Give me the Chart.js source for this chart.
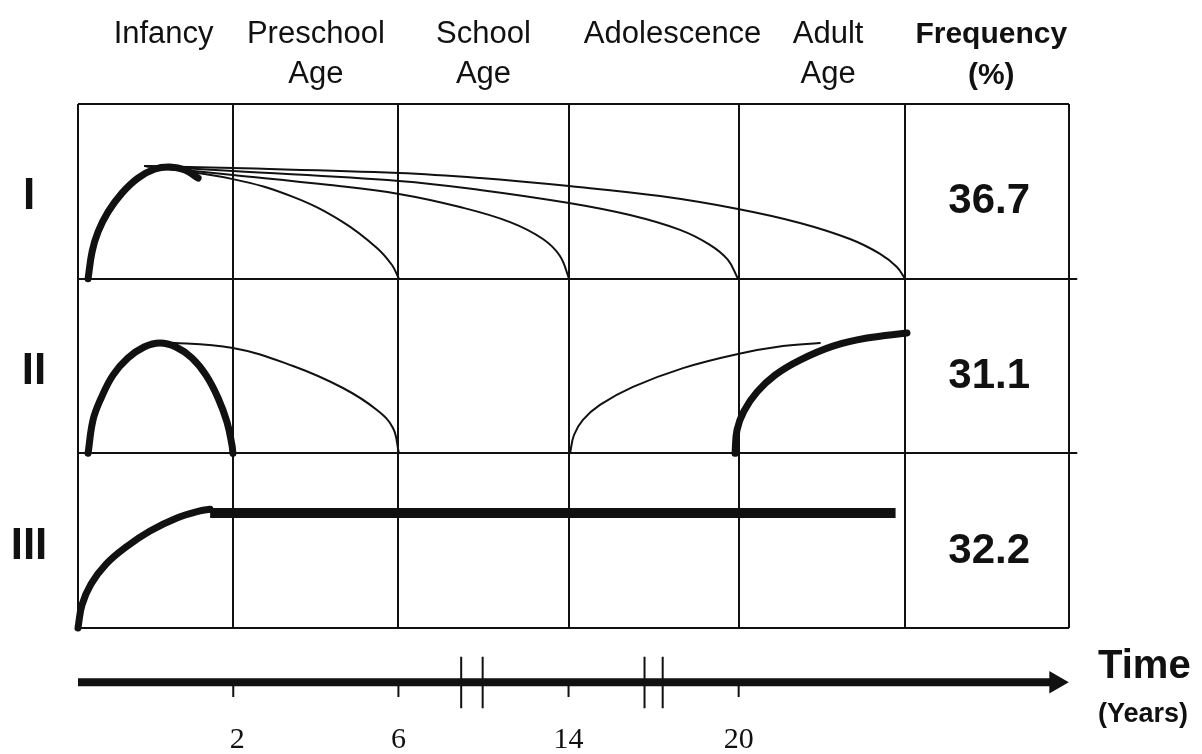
<!DOCTYPE html>
<html>
<head>
<meta charset="utf-8">
<script src="https://cdn.jsdelivr.net/npm/chart.js@4.4.0/dist/chart.umd.min.js"></script>
<style>
  html, body { margin: 0; padding: 0; background: #fff; }
  #wrap { width: 1202px; height: 754px; }
</style>
</head>
<body>
<div id="wrap"><canvas id="course-chart"></canvas></div>
<script>
// x in stage units (0 = birth), y in row units (III = 0..1, II = 1..2, I = 2..3)
const stageEdges = [0, 0.94, 1.94, 2.97, 4.0, 5.01, 6];
const stageNames = [["Infancy"], ["Preschool", "Age"], ["School", "Age"], ["Adolescence"], ["Adult", "Age"]];
const ageTicks = ["2", "6", "14", "20"];
const groups = ["I", "II", "III"];
const frequency = ["36.7", "31.1", "32.2"];
const breakMarks = [2.32, 2.45, 3.43, 3.54];
const timeAxisY = -0.31;

// group I : onset in infancy, remission at 6, 14, 20 or later
const onsetI = [[0.061, 2.0], [0.085, 2.153], [0.121, 2.267], [0.182, 2.382], [0.266, 2.49], [0.363, 2.576], [0.466, 2.628], [0.557, 2.639], [0.648, 2.622], [0.727, 2.576]];
const remitI6 = [[0.406, 2.645], [0.938, 2.57], [1.302, 2.468], [1.604, 2.324], [1.81, 2.176], [1.901, 2.078], [1.943, 2.0]];
const remitI14 = [[0.406, 2.645], [0.938, 2.594], [1.526, 2.536], [1.943, 2.485], [2.313, 2.41], [2.616, 2.324], [2.815, 2.227], [2.918, 2.13], [2.973, 2.0]];
const remitI20 = [[0.406, 2.645], [0.938, 2.616], [1.943, 2.559], [2.434, 2.508], [2.973, 2.433], [3.342, 2.364], [3.645, 2.279], [3.826, 2.193], [3.935, 2.107], [3.996, 2.0]];
const remitIAdult = [[0.406, 2.645], [0.938, 2.633], [1.943, 2.605], [2.434, 2.576], [2.973, 2.53], [3.524, 2.473], [3.996, 2.399], [4.371, 2.319], [4.674, 2.227], [4.856, 2.142], [4.958, 2.067], [5.007, 2.0]];

// group II : early episode, remission, relapse later
const archII = [[0.061, 1.0], [0.091, 1.191], [0.139, 1.314], [0.212, 1.448], [0.303, 1.546], [0.4, 1.609], [0.496, 1.632], [0.593, 1.609], [0.69, 1.546], [0.775, 1.448], [0.848, 1.317], [0.902, 1.179], [0.932, 1.048], [0.938, 1.0]];
const tailII = [[0.496, 1.637], [0.938, 1.603], [1.302, 1.5], [1.604, 1.374], [1.81, 1.248], [1.907, 1.145], [1.943, 1.0]];
const relapseII14 = [[2.979, 1.0], [3.003, 1.105], [3.057, 1.191], [3.16, 1.277], [3.36, 1.38], [3.663, 1.488], [3.996, 1.569], [4.268, 1.614], [4.492, 1.632]];
const relapseII20 = [[3.978, 1.0], [3.99, 1.134], [4.032, 1.242], [4.111, 1.351], [4.22, 1.448], [4.371, 1.534], [4.571, 1.614], [4.777, 1.66], [5.019, 1.689]];

// group III : persistent course
const onsetIII = [[0.0, 0.0], [0.024, 0.132], [0.079, 0.252], [0.17, 0.366], [0.291, 0.464], [0.436, 0.555], [0.599, 0.63], [0.739, 0.67], [0.8, 0.68]];
const plateauIII = [[0.8, 0.658], [4.95, 0.658]];

const pts = arr => arr.map(([x, y]) => ({ x, y }));

function curve(data, width) {
  return {
    data: pts(data),
    showLine: true,
    borderColor: '#111',
    borderWidth: width,
    borderCapStyle: 'round',
    borderJoinStyle: 'round',
    pointRadius: 0,
    tension: 0.4,
    clip: false
  };
}

// time axis tick and break segments, split by nulls
const axisTicks = [];
stageEdges.slice(1, 5).forEach(e => {
  axisTicks.push({ x: e, y: timeAxisY }, { x: e, y: timeAxisY - 0.085 }, { x: e, y: null });
});
const axisBreaks = [];
breakMarks.forEach(b => {
  axisBreaks.push({ x: b, y: timeAxisY + 0.145 }, { x: b, y: timeAxisY - 0.15 }, { x: b, y: null });
});

const frame = {
  id: 'frame',
  beforeDatasetsDraw(chart) {
    const { ctx, scales: { x, y } } = chart;
    ctx.save();
    ctx.strokeStyle = '#111';
    ctx.lineWidth = 2;
    ctx.beginPath();
    stageEdges.forEach(e => {
      const px = Math.round(x.getPixelForValue(e));
      ctx.moveTo(px, y.getPixelForValue(3));
      ctx.lineTo(px, y.getPixelForValue(0));
    });
    [0, 1, 2, 3].forEach(r => {
      const py = Math.round(y.getPixelForValue(r));
      ctx.moveTo(x.getPixelForValue(0), py);
      ctx.lineTo(x.getPixelForValue(r === 1 || r === 2 ? 6.05 : 6), py);
    });
    ctx.stroke();
    ctx.restore();
  },
  afterDraw(chart) {
    const { ctx, scales: { x, y } } = chart;
    ctx.save();
    ctx.fillStyle = '#111';
    ctx.textAlign = 'center';
    ctx.textBaseline = 'alphabetic';

    // stage headers
    const shift = [8, 0, 0, 19, 6];
    ctx.font = '31px "Liberation Sans", Arial, sans-serif';
    stageNames.forEach((lines, i) => {
      const cx = (x.getPixelForValue(stageEdges[i]) + x.getPixelForValue(stageEdges[i + 1])) / 2 + shift[i];
      lines.forEach((t, j) => ctx.fillText(t, cx, 43 + j * 40));
    });
    const fx = (x.getPixelForValue(stageEdges[5]) + x.getPixelForValue(stageEdges[6])) / 2 + 4;
    ctx.font = 'bold 30px "Liberation Sans", Arial, sans-serif';
    ctx.fillText('Frequency', fx, 43);
    ctx.fillText('(%)', fx, 84);

    // group labels and frequencies
    const lx = [29, 34, 29];
    groups.forEach((g, i) => {
      const mid = y.getPixelForValue(2.5 - i);
      ctx.font = 'bold 44px "Liberation Sans", Arial, sans-serif';
      ctx.fillText(g, lx[i], mid + 18);
      ctx.font = 'bold 42px "Liberation Sans", Arial, sans-serif';
      ctx.fillText(frequency[i], fx - 2, mid + 22);
    });

    // age labels under the time axis
    ctx.font = '30px "Liberation Serif", "Times New Roman", serif';
    ageTicks.forEach((t, i) => {
      ctx.fillText(t, x.getPixelForValue(stageEdges[i + 1]) + (i === 0 ? 4 : 0), 748);
    });

    ctx.textAlign = 'left';
    ctx.font = 'bold 40px "Liberation Sans", Arial, sans-serif';
    ctx.fillText('Time', 1098, 678);
    ctx.font = 'bold 27px "Liberation Sans", Arial, sans-serif';
    ctx.fillText('(Years)', 1098, 722);
    ctx.restore();
  }
};

new Chart(document.getElementById('course-chart'), {
  type: 'scatter',
  data: {
    datasets: [
      curve(remitI6, 2),
      curve(remitI14, 2),
      curve(remitI20, 2),
      curve(remitIAdult, 2),
      curve(onsetI, 7),
      curve(tailII, 2),
      curve(archII, 7),
      curve(relapseII14, 2),
      curve(relapseII20, 7),
      curve(onsetIII, 7),
      Object.assign(curve(plateauIII, 10), { borderCapStyle: 'butt', tension: 0 }),
      {
        data: [{ x: 0, y: timeAxisY }, { x: 5.89, y: timeAxisY }],
        showLine: true, borderColor: '#111', borderWidth: 8, borderCapStyle: 'butt',
        pointRadius: 0, clip: false
      },
      {
        data: [{ x: 5.92, y: timeAxisY }],
        showLine: false, pointStyle: 'triangle', pointRotation: 90, pointRadius: 13,
        pointBackgroundColor: '#111', pointBorderColor: '#111', pointBorderWidth: 0, clip: false
      },
      {
        data: axisTicks, showLine: true, spanGaps: false, borderColor: '#111', borderWidth: 2,
        pointRadius: 0, clip: false
      },
      {
        data: axisBreaks, showLine: true, spanGaps: false, borderColor: '#111', borderWidth: 2,
        pointRadius: 0, clip: false
      }
    ]
  },
  options: {
    responsive: true,
    maintainAspectRatio: false,
    animation: false,
    events: [],
    layout: { autoPadding: false, padding: { left: 78, right: 133, top: 104, bottom: 0 } },
    scales: {
      x: { type: 'linear', display: false, min: 0, max: 6 },
      y: { type: 'linear', display: false, min: -0.7214, max: 3 }
    },
    plugins: { legend: { display: false }, tooltip: { enabled: false } }
  },
  plugins: [frame]
});
</script>
</body>
</html>
